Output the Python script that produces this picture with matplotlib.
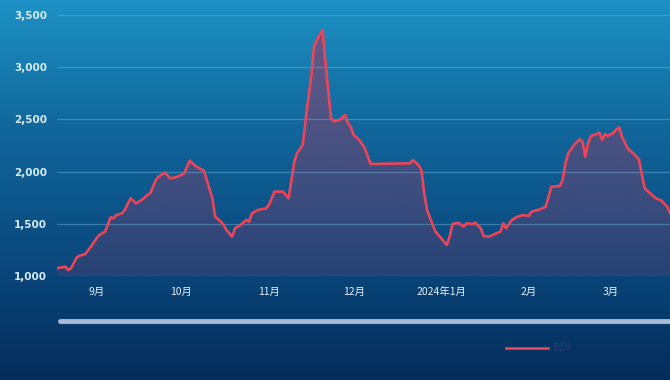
import numpy as np
import pandas as pd
import matplotlib
matplotlib.use("Agg")
import matplotlib.pyplot as plt
import matplotlib.dates as mdates
from matplotlib.lines import Line2D
from matplotlib.colors import LinearSegmentedColormap

# BDI 指数
dates = [
    "2023-08-18", "2023-08-19", "2023-08-21", "2023-08-22", "2023-08-23", "2023-08-25",
    "2023-08-26", "2023-08-28", "2023-08-30", "2023-09-01", "2023-09-02", "2023-09-04",
    "2023-09-06", "2023-09-07", "2023-09-08", "2023-09-10", "2023-09-11", "2023-09-13",
    "2023-09-15", "2023-09-17", "2023-09-19", "2023-09-20", "2023-09-22", "2023-09-23",
    "2023-09-25", "2023-09-26", "2023-09-27", "2023-09-29", "2023-10-01", "2023-10-02",
    "2023-10-04", "2023-10-06", "2023-10-08", "2023-10-09", "2023-10-10", "2023-10-12",
    "2023-10-13", "2023-10-15", "2023-10-16", "2023-10-17", "2023-10-19", "2023-10-20",
    "2023-10-22", "2023-10-24", "2023-10-25", "2023-10-26", "2023-10-28", "2023-10-31",
    "2023-11-01", "2023-11-03", "2023-11-06", "2023-11-08", "2023-11-10", "2023-11-11",
    "2023-11-13", "2023-11-14", "2023-11-16", "2023-11-17", "2023-11-18", "2023-11-20",
    "2023-11-21", "2023-11-23", "2023-11-24", "2023-11-26", "2023-11-28", "2023-11-29",
    "2023-11-30", "2023-12-01", "2023-12-03", "2023-12-05", "2023-12-07", "2023-12-21",
    "2023-12-22", "2023-12-24", "2023-12-25", "2023-12-26", "2023-12-27", "2023-12-29",
    "2023-12-30", "2024-01-01", "2024-01-03", "2024-01-04", "2024-01-05", "2024-01-07",
    "2024-01-09", "2024-01-10", "2024-01-12", "2024-01-13", "2024-01-15", "2024-01-16",
    "2024-01-18", "2024-01-20", "2024-01-22", "2024-01-23", "2024-01-24", "2024-01-26",
    "2024-01-28", "2024-01-30", "2024-02-01", "2024-02-02", "2024-02-05", "2024-02-07",
    "2024-02-09", "2024-02-12", "2024-02-13", "2024-02-14", "2024-02-15", "2024-02-17",
    "2024-02-19", "2024-02-20", "2024-02-21", "2024-02-22", "2024-02-23", "2024-02-25",
    "2024-02-26", "2024-02-27", "2024-02-28", "2024-02-29", "2024-03-02", "2024-03-03",
    "2024-03-04", "2024-03-05", "2024-03-07", "2024-03-09", "2024-03-11", "2024-03-13",
    "2024-03-15", "2024-03-17", "2024-03-19", "2024-03-21", "2024-03-22",
]
bdi = [
    1074, 1080, 1089, 1057, 1075, 1179,
    1194, 1210, 1281, 1361, 1393, 1424,
    1562, 1553, 1584, 1600, 1632, 1744,
    1696, 1728, 1776, 1792, 1920, 1951,
    1990, 1968, 1936, 1945, 1968, 1984,
    2104, 2054, 2022, 2009, 1920, 1744,
    1568, 1520, 1489, 1441, 1377, 1457,
    1489, 1537, 1520, 1600, 1632, 1648,
    1680, 1808, 1808, 1744, 2095, 2176,
    2255, 2495, 2910, 3198, 3262, 3357,
    3053, 2512, 2480, 2495, 2543, 2463,
    2431, 2351, 2303, 2223, 2073, 2079,
    2111, 2063, 2015, 1792, 1632, 1489,
    1425, 1361, 1297, 1377, 1498, 1511,
    1473, 1505, 1498, 1511, 1457, 1383,
    1377, 1402, 1425, 1505, 1457, 1537,
    1568, 1584, 1575, 1616, 1639, 1664,
    1856, 1862, 1920, 2079, 2175, 2255,
    2310, 2287, 2143, 2271, 2341, 2360,
    2373, 2303, 2360, 2341, 2373, 2405,
    2424, 2335, 2223, 2175, 2118, 1840,
    1792, 1744, 1722, 1664, 1607,
]
y_ticks = [1000, 1500, 2000, 2500, 3000, 3500]
month_ticks = ["2023-09-01", "2023-10-01", "2023-11-01", "2023-12-01",
               "2024-01-01", "2024-02-01", "2024-03-01"]
month_labels = ["9月", "10月", "11月", "12月", "2024年1月", "2月", "3月"]

x = pd.to_datetime(dates)

fig = plt.figure(figsize=(6.7, 3.8), dpi=100)

# 背景渐变
bg = fig.add_axes([0, 0, 1, 1], zorder=0)
cmap = LinearSegmentedColormap.from_list(
    "bg", ["#1d91c4", "#11679c", "#0a4a7f", "#052c5a"])
grad = np.linspace(0, 1, 256).reshape(-1, 1)
bg.imshow(grad, aspect="auto", cmap=cmap, extent=[0, 1, 0, 1])
bg.axis("off")

ax = fig.add_axes([57 / 670, 1 - 276 / 380, 1 - 57 / 670, (276 - 15) / 380], zorder=1)
ax.set_facecolor("none")

# 面积渐变填充
poly = ax.fill_between(x, bdi, 1000, color="none", lw=0)
fill_img = np.zeros((256, 1, 4))
fill_img[..., 0] = 158 / 255
fill_img[..., 1] = 55 / 255
fill_img[..., 2] = 97 / 255
fill_img[..., 3] = np.linspace(0.6, 0.2, 256).reshape(-1, 1)
x0, x1 = mdates.date2num(x[0]), mdates.date2num(x[-1])
im = ax.imshow(fill_img, aspect="auto", extent=[x0, x1, 1000, 3500],
               origin="upper", zorder=1.5)
im.set_clip_path(poly.get_paths()[0], ax.transData)

ax.plot(x, bdi, color="#ee4458", lw=1.9, label="BDI", zorder=3)

ax.set_ylim(1000, 3500)
ax.set_xlim(x[0], x[-1])
ax.set_yticks(y_ticks)
ax.set_yticklabels([f"{v:,}" for v in y_ticks])
ax.set_xticks(pd.to_datetime(month_ticks))
ax.set_xticklabels(month_labels, family=["Noto Sans CJK SC", "DejaVu Sans"])

ax.grid(axis="y", color="#6fb3d6", lw=0.9, alpha=0.45)
ax.set_axisbelow(False)
for s in ax.spines.values():
    s.set_visible(False)
ax.tick_params(axis="y", length=0, pad=7, labelsize=7.5, labelcolor="#d6ecf7")
ax.tick_params(axis="x", length=0, pad=8, labelsize=7.5, labelcolor="#e6eef6")
for t in ax.get_yticklabels():
    t.set_fontweight("bold")

# 底部滑块
fig.add_artist(Line2D([60 / 670, 1.0], [1 - 321 / 380] * 2, color="#a9bcd3",
                      lw=3.5, solid_capstyle="round"))

leg = fig.legend(loc="center", bbox_to_anchor=(538 / 670, 1 - 348 / 380),
                 frameon=False, fontsize=7, handlelength=4.3, handletextpad=0.5)
for t in leg.get_texts():
    t.set_color("#223d72")

fig.savefig("out.png", dpi=100)
